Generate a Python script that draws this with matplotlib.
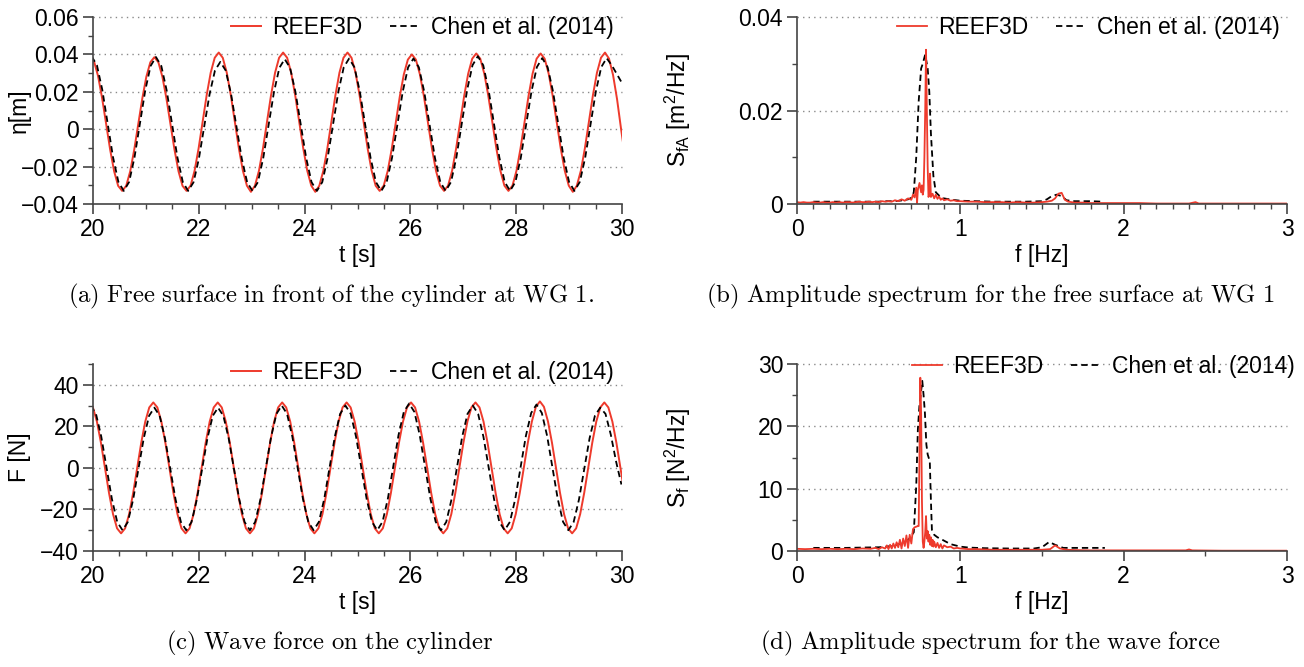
import numpy as np
import matplotlib
matplotlib.use('Agg')
import matplotlib.pyplot as plt
from matplotlib.ticker import MultipleLocator, FuncFormatter

# ---------------- data ----------------
# (a) free surface elevation at WG1 (uniformly sampled: start time + step)
eta_reef_t0, eta_reef_dt = 19.943, 0.07606
eta_reef = [0.039,
    0.0363, 0.0285, 0.0168, 0.003, -0.0108, -0.0225, -0.0303, -0.033,
    -0.0303, -0.0225, -0.0109, 0.0028, 0.0164, 0.0280, 0.0358, 0.0385,
    0.0358, 0.0280, 0.0164, 0.0028, -0.0109, -0.0225, -0.0303, -0.033,
    -0.0302, -0.0222, -0.0102, 0.004, 0.0182, 0.0302, 0.0382, 0.041,
    0.0382, 0.0302, 0.0182, 0.004, -0.0102, -0.0222, -0.0302, -0.0335,
    -0.0302, -0.0222, -0.0102, 0.004, 0.0182, 0.0302, 0.0382, 0.041,
    0.0382, 0.0302, 0.0182, 0.004, -0.0102, -0.0222, -0.0302, -0.0335,
    -0.0302, -0.0222, -0.0102, 0.004, 0.0182, 0.0302, 0.0382, 0.041,
    0.0382, 0.0302, 0.0182, 0.004, -0.0102, -0.0222, -0.0302, -0.033,
    -0.0302, -0.0223, -0.0105, 0.0035, 0.0175, 0.0293, 0.0372, 0.040,
    0.0372, 0.0293, 0.0175, 0.0035, -0.0105, -0.0223, -0.0302, -0.033,
    -0.0302, -0.0222, -0.0103, 0.0038, 0.0178, 0.0297, 0.0377, 0.0405,
    0.0377, 0.0297, 0.0178, 0.0038, -0.0103, -0.0222, -0.0302, -0.033,
    -0.0302, -0.0222, -0.0103, 0.0038, 0.0178, 0.0297, 0.0377, 0.0405,
    0.0377, 0.0297, 0.0178, 0.0038, -0.0103, -0.0222, -0.0302, -0.0335,
    -0.0302, -0.0222, -0.0102, 0.004, 0.0182, 0.0302, 0.0382, 0.041,
    0.0377, 0.0290, 0.0160, 0.0000, -0.015]

eta_chen_t0, eta_chen_dt = 19.973, 0.10142
eta_chen = [0.039,
    0.0342, 0.021, 0.003, -0.015, -0.0282, -0.033, -0.0282, -0.0151, 0.0028, 0.0207, 0.0338, 0.0386,
    0.0338, 0.0207, 0.0028, -0.0151, -0.0282, -0.033, -0.0284, -0.0158, 0.0015, 0.0188, 0.0314, 0.036,
    0.0314, 0.0188, 0.0015, -0.0158, -0.0284, -0.033, -0.0283, -0.0154, 0.0023, 0.0199, 0.0328, 0.0375,
    0.0328, 0.0199, 0.0023, -0.0154, -0.0283, -0.033, -0.0283, -0.0153, 0.0024, 0.0201, 0.0331, 0.0378,
    0.0331, 0.0201, 0.0024, -0.0153, -0.0283, -0.033, -0.0283, -0.0153, 0.0024, 0.0201, 0.0331, 0.0378,
    0.0331, 0.0201, 0.0024, -0.0153, -0.0283, -0.033, -0.0282, -0.015, 0.003, 0.021, 0.0342, 0.039,
    0.0342, 0.021, 0.003, -0.015, -0.0282, -0.033, -0.0282, -0.0153, 0.0025, 0.0203, 0.0332, 0.038,
    0.0332, 0.0203, 0.0025, -0.0153, -0.0282, -0.033, -0.0282, -0.0153, 0.0025, 0.0203, 0.0332, 0.038,
    0.034, 0.029, 0.024]

# (b) amplitude spectrum of the free surface
f_b_reef = [0.00, 0.02, 0.04, 0.06, 0.08, 0.10, 0.12, 0.14, 0.16, 0.18, 0.20, 0.22, 0.24, 0.26, 0.28,
            0.30, 0.32, 0.34, 0.36, 0.38, 0.40, 0.42, 0.44, 0.46, 0.48, 0.50, 0.52, 0.54, 0.56, 0.58,
            0.60, 0.62, 0.64, 0.66, 0.68, 0.70, 0.71, 0.72, 0.73, 0.735, 0.74, 0.75, 0.76, 0.765, 0.77,
            0.775, 0.78, 0.785, 0.79, 0.795, 0.80, 0.805, 0.81, 0.815, 0.82, 0.83, 0.84, 0.85, 0.86,
            0.87, 0.88, 0.89, 0.90, 0.92, 0.94, 0.96, 0.98, 1.00, 1.05, 1.10, 1.15, 1.20, 1.25, 1.30,
            1.35, 1.40, 1.45, 1.50, 1.53, 1.56, 1.58, 1.60, 1.62, 1.64, 1.66, 1.68, 1.70, 1.75, 1.80,
            1.85, 1.90, 2.00, 2.10, 2.20, 2.30, 2.40, 2.44, 2.46, 2.50, 2.60, 2.70, 2.80, 2.90, 3.00]
S_b_reef = [0.0004, 0.0003, 0.0004, 0.0003, 0.0003, 0.0004, 0.0003, 0.0003, 0.0004, 0.0003, 0.0003,
            0.0004, 0.0003, 0.0004, 0.0003, 0.0004, 0.0004, 0.0003, 0.0004, 0.0005, 0.0004, 0.0004,
            0.0005, 0.0004, 0.0005, 0.0004, 0.0006, 0.0005, 0.0006, 0.0005, 0.0008, 0.0006, 0.0010,
            0.0007, 0.0012, 0.0009, 0.0020, 0.0014, 0.0035, 0.0002, 0.0030, 0.0045, 0.0025, 0.0040,
            0.0020, 0.0030, 0.0100, 0.0200, 0.0330, 0.0200, 0.0080, 0.0015, 0.0020, 0.0065, 0.0015,
            0.0022, 0.0012, 0.0020, 0.0011, 0.0016, 0.0009, 0.0012, 0.0008, 0.0010, 0.0007, 0.0008,
            0.0006, 0.0006, 0.0005, 0.0005, 0.0004, 0.0004, 0.0004, 0.0003, 0.0004, 0.0003, 0.0003,
            0.0004, 0.0005, 0.0007, 0.0012, 0.0022, 0.0024, 0.0009, 0.0005, 0.0004, 0.0003, 0.0003,
            0.0002, 0.0002, 0.0002, 0.0002, 0.0002, 0.0001, 0.0001, 0.0001, 0.0004, 0.0001, 0.0001,
            0.0001, 0.0001, 0.0001, 0.0001, 0.0001]
f_b_chen = [0.10, 0.15, 0.20, 0.30, 0.40, 0.50, 0.55, 0.60, 0.65, 0.68, 0.70, 0.715, 0.73, 0.745, 0.76,
            0.77, 0.785, 0.80, 0.81, 0.82, 0.835, 0.85, 0.87, 0.90, 0.95, 1.00, 1.10, 1.20, 1.30, 1.40,
            1.50, 1.53, 1.56, 1.59, 1.62, 1.65, 1.70, 1.80, 1.87]
S_b_chen = [0.0005, 0.0005, 0.0005, 0.0005, 0.0005, 0.0005, 0.0006, 0.0006, 0.0008, 0.0010, 0.0013,
            0.0025, 0.0100, 0.0220, 0.0290, 0.0300, 0.0320, 0.0290, 0.0240, 0.0150, 0.0060, 0.0025,
            0.0018, 0.0012, 0.0009, 0.0007, 0.0006, 0.0005, 0.0005, 0.0005, 0.0006, 0.0010, 0.0017,
            0.0020, 0.0017, 0.0008, 0.0006, 0.0006, 0.0005]

# (c) wave force on the cylinder
F_reef_t0, F_reef_dt = 19.922, 0.076125
F_reef = [31.5,
    29.1, 22.27, 12.06, 0, -12.06, -22.27, -29.1, -31.5, -29.1, -22.27, -12.06, 0, 12.06, 22.27, 29.1, 31.5,
    29.1, 22.27, 12.06, 0, -12.06, -22.27, -29.1, -31.5, -29.1, -22.27, -12.06, 0, 12.06, 22.27, 29.1, 31.5,
    29.1, 22.27, 12.06, 0, -12.06, -22.27, -29.1, -31.5, -29.1, -22.27, -12.06, 0, 12.06, 22.27, 29.1, 31.5,
    29.1, 22.27, 12.06, 0, -12.06, -22.27, -29.1, -31.5, -29.1, -22.27, -12.06, 0, 12.06, 22.27, 29.1, 31.5,
    29.1, 22.27, 12.06, 0, -12.06, -22.27, -29.1, -31.5, -29.1, -22.27, -12.06, 0, 12.06, 22.27, 29.1, 31.5,
    29.1, 22.27, 12.06, 0, -12.06, -22.27, -29.1, -31.5, -29.1, -22.27, -12.06, 0, 12.06, 22.27, 29.1, 31.5,
    29.1, 22.27, 12.06, 0, -12.06, -22.27, -29.1, -31.5, -29.1, -22.27, -12.06, 0, 12.06, 22.27, 29.4, 32.0,
    29.4, 22.4, 12.1, 0, -12.06, -22.27, -29.1, -31.5, -29.1, -22.27, -12.06, 0, 12.06, 22.27, 29.1, 31.5,
    29.1, 22.27, 12.06, 0, -12.06]

F_chen_t0, F_chen_dt = 19.956, 0.10033
F_chen = [30,
    26, 15, 0, -15, -26, -30, -26.05, -15.25, -0.5, 14.25, 25.05, 29,
    25.05, 14.25, -0.5, -15.25, -26.05, -30, -26.05, -15.25, -0.5, 14.25, 25.05, 29,
    25.05, 14.25, -0.5, -15.25, -26.05, -30, -26, -15, 0, 15, 26, 30,
    26, 15, 0, -15, -26, -30, -26, -15, 0, 15, 26, 30,
    26, 15, 0, -15, -26, -30, -25.9, -14.75, 0.5, 15.75, 26.9, 31,
    26.9, 15.75, 0.5, -14.75, -25.9, -30, -26, -15, 0, 15, 26, 30,
    26, 15, 0, -15, -26, -30, -25.95, -14.9, 0.25, 15.4, 26.45, 30.5,
    26.45, 15.4, 0.25, -14.9, -25.95, -30, -26.05, -15.25, -0.5, 14.25, 25.05, 29,
    26, 16, 3, -8]

# (d) amplitude spectrum of the wave force
f_d_reef = [0.00, 0.05, 0.10, 0.15, 0.20, 0.25, 0.30, 0.35, 0.40, 0.45, 0.48, 0.50, 0.52, 0.54, 0.55,
            0.56, 0.57, 0.58, 0.59, 0.60, 0.61, 0.62, 0.63, 0.64, 0.65, 0.66, 0.67, 0.68, 0.69, 0.70,
            0.71, 0.72, 0.73, 0.74, 0.745, 0.75, 0.755, 0.76, 0.765, 0.77, 0.775, 0.78, 0.785, 0.79,
            0.795, 0.80, 0.805, 0.81, 0.815, 0.82, 0.825, 0.83, 0.835, 0.84, 0.85, 0.86, 0.87, 0.88,
            0.89, 0.90, 0.92, 0.94, 0.96, 0.98, 1.00, 1.05, 1.10, 1.20, 1.30, 1.40, 1.50, 1.55, 1.58,
            1.61, 1.65, 1.70, 1.80, 2.00, 2.20, 2.38, 2.40, 2.42, 2.60, 2.80, 3.00]
S_d_reef = [0.35, 0.30, 0.35, 0.30, 0.35, 0.30, 0.35, 0.30, 0.40, 0.35, 0.50, 0.30, 0.60, 0.40, 0.90,
            0.30, 1.00, 0.40, 1.20, 0.50, 1.40, 0.60, 1.80, 0.40, 2.00, 0.80, 2.50, 0.50, 2.60, 1.20,
            3.50, 3.80, 3.90, 4.00, 4.00, 16.0, 27.8, 22.0, 8.0, 1.5, 0.5, 1.5, 3.0, 5.6,
            2.0, 3.2, 1.5, 2.6, 1.0, 2.2, 0.8, 1.8, 0.7, 1.5, 0.6, 1.3, 0.5, 1.1,
            0.4, 0.9, 0.6, 0.7, 0.4, 0.5, 0.4, 0.3, 0.3, 0.2, 0.2, 0.2, 0.2, 0.3, 0.9,
            0.4, 0.2, 0.15, 0.1, 0.1, 0.1, 0.1, 0.25, 0.1, 0.05, 0.05, 0.05]
f_d_chen = [0.10, 0.20, 0.30, 0.40, 0.50, 0.55, 0.60, 0.65, 0.685, 0.715, 0.73, 0.74, 0.75, 0.757,
            0.767, 0.775, 0.783, 0.792, 0.80, 0.813, 0.82, 0.826, 0.84, 0.86, 0.89, 0.94, 1.00, 1.05,
            1.15, 1.30, 1.45, 1.50, 1.544, 1.58, 1.63, 1.70, 1.80, 1.885]
S_d_chen = [0.5, 0.5, 0.5, 0.55, 0.6, 0.7, 0.9, 1.3, 1.9, 3.0, 10.4, 19.5, 23.5, 25.0,
            27.3, 25.0, 22.2, 17.1, 15.5, 14.4, 8.0, 3.4, 2.6, 2.2, 1.8, 1.1, 0.7, 0.55,
            0.45, 0.4, 0.4, 0.6, 1.45, 1.0, 0.5, 0.5, 0.5, 0.5]

# ---------------- style ----------------
plt.rcParams['font.family'] = ['Liberation Sans', 'DejaVu Sans']
plt.rcParams['mathtext.fontset'] = 'custom'
plt.rcParams['mathtext.rm'] = 'Liberation Sans'
plt.rcParams['mathtext.it'] = 'Liberation Sans:italic'
plt.rcParams['mathtext.bf'] = 'Liberation Sans:bold'

FS = 16.5
RED = '#ee3a2c'
AX_COL = '#444444'
GRID_COL = '#8a8a8a'
DASH = (0, (3.5, 2.2))

W, H = 1304, 667
fig = plt.figure(figsize=(W / 100, H / 100), dpi=100)


def axes_px(l, t, r, b):
    return fig.add_axes([l / W, 1 - b / H, (r - l) / W, (b - t) / H])


def fmt(v, pos):
    if abs(v) < 1e-12:
        return '0'
    return ('%g' % v).replace('-', '\u2212')


def style(ax, xlim, ylim, xmaj, xmin, ymaj, ymin, grid_vals):
    ax.set_xlim(*xlim)
    ax.set_ylim(*ylim)
    for s in ['top', 'right']:
        ax.spines[s].set_visible(False)
    for s in ['left', 'bottom']:
        ax.spines[s].set_color(AX_COL)
        ax.spines[s].set_linewidth(1.2)
    ax.xaxis.set_major_locator(MultipleLocator(xmaj))
    ax.xaxis.set_minor_locator(MultipleLocator(xmin))
    ax.yaxis.set_major_locator(MultipleLocator(ymaj))
    ax.yaxis.set_minor_locator(MultipleLocator(ymin))
    ax.xaxis.set_major_formatter(FuncFormatter(fmt))
    ax.yaxis.set_major_formatter(FuncFormatter(fmt))
    ax.tick_params(which='major', length=7, width=1.2, color=AX_COL, labelsize=FS, pad=3,
                   direction='out', labelcolor='black')
    ax.tick_params(which='minor', length=3.6, width=1.0, color=AX_COL, direction='out')
    for g in grid_vals:
        ax.axhline(g, color=GRID_COL, lw=1.0, ls=(0, (1, 3)), zorder=0, clip_on=False)


def legend(ax, handles, x, y):
    ax.legend(handles=handles, loc='center right', bbox_to_anchor=(x, y), ncol=2, frameon=False,
              borderpad=0, borderaxespad=0, handlelength=1.3, handletextpad=0.5,
              columnspacing=1.2, fontsize=FS)


ax_a = axes_px(93, 17, 622, 204)
ax_b = axes_px(797, 17, 1287, 204)
ax_c = axes_px(93, 364, 622, 551)
ax_d = axes_px(797, 364, 1287, 551)

# (a)
t_er = eta_reef_t0 + eta_reef_dt * np.arange(len(eta_reef))
t_ec = eta_chen_t0 + eta_chen_dt * np.arange(len(eta_chen))
h1, = ax_a.plot(t_er, eta_reef, color=RED, lw=1.4, label='REEF3D')
h2, = ax_a.plot(t_ec, eta_chen, color='black', lw=1.3, ls=DASH, label='Chen et al. (2014)')
style(ax_a, (20, 30), (-0.04, 0.06), 2, 0.5, 0.02, 0.01, [0.06, 0.04, 0.02, 0, -0.02])
ax_a.set_xlabel('t [s]', fontsize=FS, labelpad=2)
ax_a.set_ylabel('\u03b7[m]', fontsize=FS)
ax_a.yaxis.set_label_coords(-0.118, 0.5)
legend(ax_a, [h1, h2], 0.985, 0.946)

# (b)
h2, = ax_b.plot(f_b_chen, S_b_chen, color='black', lw=1.3, ls=DASH, label='Chen et al. (2014)')
h1, = ax_b.plot(f_b_reef, S_b_reef, color=RED, lw=1.3, label='REEF3D')
style(ax_b, (0, 3), (0, 0.04), 1, 0.1, 0.02, 0.01, [0.04, 0.02])
ax_b.set_xlabel('f [Hz]', fontsize=FS, labelpad=2)
ax_b.set_ylabel(r'S$_{\mathrm{fA}}$ [m$^{2}$/Hz]', fontsize=FS)
ax_b.yaxis.set_label_coords(-0.212, 0.5)
legend(ax_b, [h1, h2], 0.986, 0.946)

# (c)
t_fr = F_reef_t0 + F_reef_dt * np.arange(len(F_reef))
t_fc = F_chen_t0 + F_chen_dt * np.arange(len(F_chen))
h1, = ax_c.plot(t_fr, F_reef, color=RED, lw=1.4, label='REEF3D')
h2, = ax_c.plot(t_fc, F_chen, color='black', lw=1.3, ls=DASH, label='Chen et al. (2014)')
style(ax_c, (20, 30), (-40, 50), 2, 0.5, 20, 10, [40, 20, 0, -20])
ax_c.set_xlabel('t [s]', fontsize=FS, labelpad=2)
ax_c.set_ylabel('F [N]', fontsize=FS)
ax_c.yaxis.set_label_coords(-0.118, 0.5)
legend(ax_c, [h1, h2], 0.985, 0.952)

# (d)
h2, = ax_d.plot(f_d_chen, S_d_chen, color='black', lw=1.3, ls=DASH, label='Chen et al. (2014)')
h1, = ax_d.plot(f_d_reef, S_d_reef, color=RED, lw=1.3, label='REEF3D')
style(ax_d, (0, 3), (0, 30), 1, 0.5, 10, 5, [30, 20, 10])
ax_d.set_xlabel('f [Hz]', fontsize=FS, labelpad=2)
ax_d.set_ylabel(r'S$_{\mathrm{f}}$ [N$^{2}$/Hz]', fontsize=FS)
ax_d.yaxis.set_label_coords(-0.212, 0.5)
legend(ax_d, [h1, h2], 1.016, 0.984)

# captions
CAP = 17.8
fig.text(331 / W, 1 - 296 / H, r'$\mathrm{(a)\ Free\ surface\ in\ front\ of\ the\ cylinder\ at\ WG\ 1.}$',
         ha='center', va='center', fontsize=CAP, math_fontfamily='cm')
fig.text(990 / W, 1 - 296 / H, r'$\mathrm{(b)\ Amplitude\ spectrum\ for\ the\ free\ surface\ at\ WG\ 1}$',
         ha='center', va='center', fontsize=CAP, math_fontfamily='cm')
fig.text(330 / W, 1 - 643 / H, r'$\mathrm{(c)\ Wave\ force\ on\ the\ cylinder}$',
         ha='center', va='center', fontsize=CAP, math_fontfamily='cm')
fig.text(990 / W, 1 - 643 / H, r'$\mathrm{(d)\ Amplitude\ spectrum\ for\ the\ wave\ force}$',
         ha='center', va='center', fontsize=CAP, math_fontfamily='cm')

fig.savefig('out.png', dpi=100)
